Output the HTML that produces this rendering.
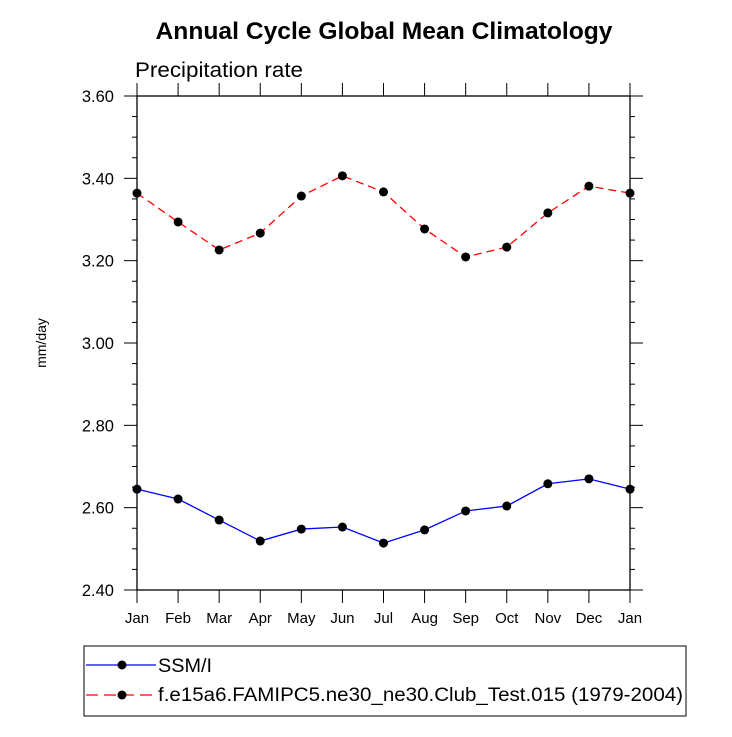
<!DOCTYPE html>
<html><head><meta charset="utf-8"><style>
body{margin:0;background:#fff}
svg{font-family:"Liberation Sans",sans-serif}
</style></head><body>
<svg id="chart" width="732" height="732">
<text x="384" y="39" text-anchor="middle" font-size="24" font-weight="bold" textLength="457" lengthAdjust="spacingAndGlyphs">Annual Cycle Global Mean Climatology</text>
<text x="135" y="77" font-size="21" textLength="168" lengthAdjust="spacingAndGlyphs">Precipitation rate</text>
<text transform="translate(46,343) rotate(-90)" text-anchor="middle" font-size="14">mm/day</text>
<g id="axes"></g>
<g id="series"></g>
<rect x="84" y="646" width="602" height="70" fill="none" stroke="#000" stroke-width="1"/>
<g>
<line x1="86" y1="665" x2="156" y2="665" stroke="#0000ff" stroke-width="1.3"/>
<circle cx="122" cy="665" r="4.5" fill="#000"/>
<text x="158" y="672" font-size="19" textLength="54" lengthAdjust="spacingAndGlyphs">SSM/I</text>
</g>
<g>
<line x1="86" y1="695" x2="156" y2="695" stroke="#ff0000" stroke-width="1.3" stroke-dasharray="12,6"/>
<circle cx="122" cy="695" r="4.5" fill="#000"/>
<text x="158" y="701" font-size="19" textLength="525" lengthAdjust="spacingAndGlyphs">f.e15a6.FAMIPC5.ne30_ne30.Club_Test.015 (1979-2004)</text>
</g>
</svg>
<script>
const months=["Jan","Feb","Mar","Apr","May","Jun","Jul","Aug","Sep","Oct","Nov","Dec","Jan"];
const yTicks=[2.4,2.6,2.8,3.0,3.2,3.4,3.6];
const ssmi=[2.645,2.621,2.570,2.519,2.548,2.553,2.514,2.546,2.592,2.604,2.658,2.670,2.645];
const model=[3.364,3.294,3.226,3.267,3.357,3.406,3.367,3.277,3.209,3.233,3.316,3.381,3.364];
const L=137,R=630,T=96,B=590,ymin=2.4,ymax=3.6;
const xs=i=>L+(R-L)*i/(months.length-1);
const ys=v=>B-(v-ymin)/(ymax-ymin)*(B-T);
const NS="http://www.w3.org/2000/svg";
function mk(tag,attrs,parent){const e=document.createElementNS(NS,tag);for(const k in attrs)e.setAttribute(k,attrs[k]);parent.appendChild(e);return e;}
const ax=document.getElementById('axes');
const frame=mk('rect',{x:L,y:T,width:R-L,height:B-T,fill:'none',stroke:'#000','stroke-width':1.3},ax);


months.forEach((m,i)=>{
  const x=xs(i);
  mk('line',{x1:x,y1:B,x2:x,y2:B+13,stroke:'#000'},ax);
  mk('line',{x1:x,y1:T,x2:x,y2:T-13,stroke:'#000'},ax);
  const t=mk('text',{x:x,y:B+33,'text-anchor':'middle','font-size':15},ax);
  t.textContent=m;
  
  
});
for(let v=ymin;v<=ymax+1e-9;v+=0.05){
  const y=ys(v);const major=Math.abs((v-ymin)/0.2-Math.round((v-ymin)/0.2))<1e-6;const len=major?13:5;
  mk('line',{x1:L,y1:y,x2:L-len,y2:y,stroke:'#000'},ax);
  mk('line',{x1:R,y1:y,x2:R+len,y2:y,stroke:'#000'},ax);
}
yTicks.forEach(v=>{
  const t=mk('text',{x:L-23,y:ys(v)+6,'text-anchor':'end','font-size':16.5},ax);
  t.textContent=v.toFixed(2);
  
  
});
const sg=document.getElementById('series');
function draw(vals,color,dash,name){
  const g=mk('g',{},sg);
  
  
  const p=mk('polyline',{points:vals.map((v,i)=>xs(i)+','+ys(v)).join(' '),fill:'none',stroke:color,'stroke-width':1.3},g);
  if(dash)p.setAttribute('stroke-dasharray',dash);
  vals.forEach((v,i)=>{
    const c=mk('circle',{cx:xs(i),cy:ys(v),r:4.5,fill:'#000'},g);
    
    
  });
}
draw(ssmi,'#0000ff',null,'series-ssmi');
draw(model,'#ff0000','8,5','series-model');
</script>
</body></html>
